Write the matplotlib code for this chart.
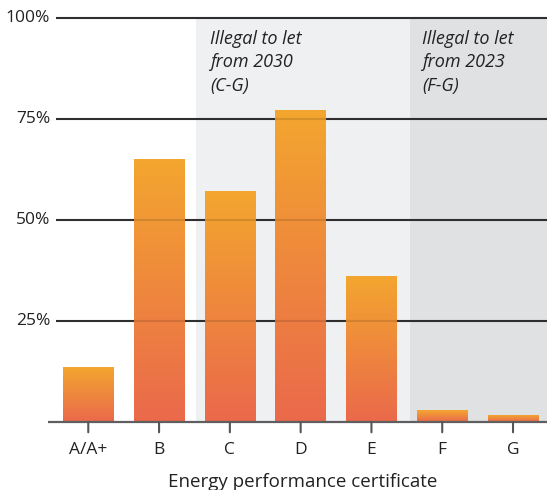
import matplotlib
matplotlib.use("Agg")
import matplotlib.pyplot as plt
import numpy as np
from matplotlib.colors import LinearSegmentedColormap

plt.rcParams['font.family'] = ['Open Sans', 'DejaVu Sans']

categories = ["A/A+", "B", "C", "D", "E", "F", "G"]
shares = [13.5, 65.0, 57.0, 77.0, 36.0, 2.8, 1.6]
y_ticks = [25, 50, 75, 100]
y_tick_labels = ["25%", "50%", "75%", "100%"]
ban_2030_text = "Illegal to let\nfrom 2030\n(C-G)"
ban_2023_text = "Illegal to let\nfrom 2023\n(F-G)"
x_label = "Energy performance certificate"

W, H = 547, 490
fig = plt.figure(figsize=(W / 100, H / 100), dpi=100)
left_px, right_px, top_px, base_px = 48, 547, 17.9, 422.3
ax = fig.add_axes([left_px / W, (H - base_px) / H,
                   (right_px - left_px) / W, (base_px - top_px) / H])

x = np.arange(len(categories))
bar_w = 0.716
x_lo, x_hi = -0.569, 6.48
ax.set_xlim(x_lo, x_hi)
ax.set_ylim(0, 100)
ax.axis('off')

# shaded regulation zones
ax.axvspan(1.52, 4.54, color='#eff0f2', zorder=0, lw=0)
ax.axvspan(4.54, x_hi, color='#e0e1e3', zorder=0, lw=0)

# gridlines and labels
grid_start = -0.456
for v, lab in zip(y_ticks, y_tick_labels):
    ax.plot([grid_start, x_hi], [v, v], color='#363636', lw=1.5,
            zorder=1, solid_capstyle='butt', clip_on=False)
    # faint trace of the line across the bars
    ax.plot([grid_start, x_hi], [v, v], color='black', alpha=0.12, lw=1.5,
            zorder=2.5, solid_capstyle='butt', clip_on=False)
    ax.annotate(lab, xy=(grid_start, v), xytext=(-4.3, 0),
                textcoords='offset points', ha='right', va='center',
                fontsize=12.5, color='#222222', annotation_clip=False)

# baseline and ticks
ax.plot([x_lo, x_hi], [0, 0], color='#5f5f5f', lw=1.6, zorder=3,
        solid_capstyle='butt', clip_on=False)
for xi, cat in zip(x, categories):
    ax.annotate('', xy=(xi, 0), xytext=(xi, -7.2), textcoords=('data', 'offset points'),
                arrowprops=dict(arrowstyle='-', color='#555555', lw=1.5,
                                shrinkA=0, shrinkB=0), annotation_clip=False)
    ax.annotate(cat, xy=(xi, 0), xytext=(0, -14), textcoords='offset points',
                ha='center', va='top', fontsize=12.5, color='#222222',
                annotation_clip=False)

ax.annotate(x_label, xy=(0.5, 0), xycoords='axes fraction', xytext=(3.6, -36.8),
            textcoords='offset points', ha='center', va='top', fontsize=13.5,
            color='#222222', annotation_clip=False)

# gradient-filled bars
cmap = LinearSegmentedColormap.from_list('epc', ['#ea694b', '#f3a62f'], N=1024)
grad = np.linspace(0, 1, 1024).reshape(-1, 1)
for xi, h in zip(x, shares):
    ax.imshow(grad, cmap=cmap, origin='lower', aspect='auto',
              extent=(xi - bar_w / 2, xi + bar_w / 2, 0, h),
              zorder=2, interpolation='antialiased')
ax.set_xlim(x_lo, x_hi)
ax.set_ylim(0, 100)

# zone annotations
ax.text(1.72, 97.0, ban_2030_text, ha='left', va='top', fontsize=13,
        style='italic', color='#222222', linespacing=1.38, zorder=4)
ax.text(4.72, 97.0, ban_2023_text, ha='left', va='top', fontsize=13,
        style='italic', color='#222222', linespacing=1.38, zorder=4)

fig.savefig('out.png', dpi=100)
